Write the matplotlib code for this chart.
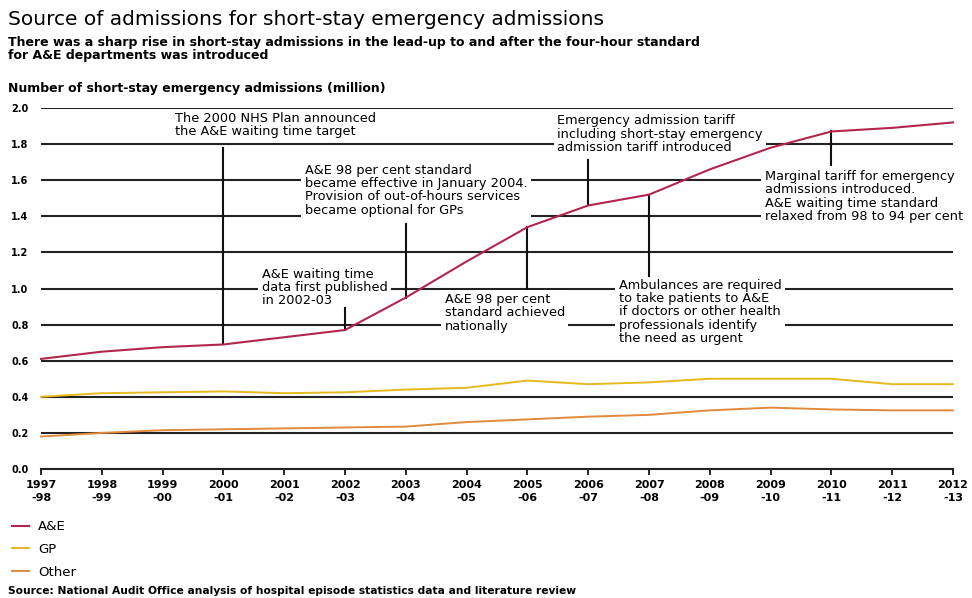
import matplotlib
matplotlib.use("Agg")
import matplotlib.pyplot as plt
import numpy as np

plt.rcParams['font.family'] = ['DejaVu Sans']

# financial years
years = ["1997\n-98", "1998\n-99", "1999\n-00", "2000\n-01", "2001\n-02", "2002\n-03",
         "2003\n-04", "2004\n-05", "2005\n-06", "2006\n-07", "2007\n-08", "2008\n-09",
         "2009\n-10", "2010\n-11", "2011\n-12", "2012\n-13"]

# short-stay emergency admissions (million)
ae = [0.61, 0.65, 0.675, 0.69, 0.73, 0.77, 0.95, 1.15, 1.34, 1.46, 1.52, 1.66,
      1.78, 1.87, 1.89, 1.92]
gp = [0.40, 0.42, 0.425, 0.43, 0.42, 0.425, 0.44, 0.45, 0.49, 0.47, 0.48, 0.50,
      0.50, 0.50, 0.47, 0.47]
other = [0.18, 0.20, 0.215, 0.22, 0.225, 0.23, 0.235, 0.26, 0.275, 0.29, 0.30,
         0.325, 0.34, 0.33, 0.325, 0.325]

yticks = [0.0, 0.2, 0.4, 0.6, 0.8, 1.0, 1.2, 1.4, 1.6, 1.8, 2.0]

c_ae = "#b3264c"
c_gp = "#e6b91e"
c_other = "#e08a3c"

fig = plt.figure(figsize=(9.72, 5.98), dpi=100)
ax = fig.add_axes([0.0422, 0.2157, 0.9383, 0.6037])
x = np.arange(len(years))

# horizontal rules, text boxes sit on top and break them
for v in yticks[1:-1]:
    ax.axhline(v, color="#222222", lw=1.5, zorder=1)
ax.axhline(yticks[-1], color="#222222", lw=1.5, zorder=4)

ax.plot(x, other, color=c_other, lw=1.4, zorder=6, label="Other", clip_on=False)
ax.plot(x, gp, color=c_gp, lw=1.4, zorder=6, label="GP", clip_on=False)
ax.plot(x, ae, color=c_ae, lw=1.5, zorder=6, label="A&E", clip_on=False)

ax.set_xlim(0, len(years) - 1)
ax.set_ylim(0, 2.0)
ax.set_xticks(x)
ax.set_xticklabels(years, fontsize=8, fontweight="bold", linespacing=1.3)
ax.set_yticks(yticks)
ax.set_yticklabels([f"{v:.1f}" for v in yticks], fontsize=7, fontweight="bold")
ax.tick_params(axis="y", length=0, pad=9)
ax.tick_params(axis="x", length=4, width=1.2, direction="out", pad=4)
for s in ["top", "right", "left"]:
    ax.spines[s].set_visible(False)
ax.spines["bottom"].set_linewidth(1.5)
ax.spines["bottom"].set_color("#222222")

box = dict(facecolor="white", edgecolor="none", pad=2.5)
tkw = dict(fontsize=9.3, linespacing=1.03, zorder=3, bbox=box, ha="left", va="center")

# annotations: (index, text x, text y, end of leader)
notes = [
    (3, 2.2, 1.905, 1.78,
     "The 2000 NHS Plan announced\nthe A&E waiting time target"),
    (5, 3.63, 1.005, 0.89,
     "A&E waiting time\ndata first published\nin 2002-03"),
    (6, 4.34, 1.545, 1.36,
     "A&E 98 per cent standard\nbecame effective in January 2004.\n"
     "Provision of out-of-hours services\nbecame optional for GPs"),
    (8, 6.64, 0.865, 1.0,
     "A&E 98 per cent\nstandard achieved\nnationally"),
    (9, 8.49, 1.855, 1.71,
     "Emergency admission tariff\nincluding short-stay emergency\nadmission tariff introduced"),
    (10, 9.5, 0.87, 1.07,
     "Ambulances are required\nto take patients to A&E\nif doctors or other health\n"
     "professionals identify\nthe need as urgent"),
    (13, 11.9, 1.51, 1.685,
     "Marginal tariff for emergency\nadmissions introduced.\nA&E waiting time standard\n"
     "relaxed from 98 to 94 per cent"),
]
for i, tx, ty, end, txt in notes:
    ax.plot([i, i], [ae[i], end], color="#111111", lw=1.5, zorder=5)
    ax.text(tx, ty, txt, clip_on=False, **tkw)

fig.text(0.008, 0.968, "Source of admissions for short-stay emergency admissions",
         fontsize=14.5, va="center")
fig.text(0.008, 0.918, "There was a sharp rise in short-stay admissions in the lead-up to and after the four-hour standard\n"
         "for A&E departments was introduced", fontsize=9, fontweight="bold",
         va="center", linespacing=0.95)
fig.text(0.008, 0.852, "Number of short-stay emergency admissions (million)",
         fontsize=9, fontweight="bold", va="center")

handles, labels = ax.get_legend_handles_labels()
order = [2, 1, 0]
fig.legend([handles[k] for k in order], [labels[k] for k in order],
           loc="upper left", bbox_to_anchor=(0.0, 0.15), frameon=False,
           fontsize=9.5, handlelength=1.3, handletextpad=0.7, labelspacing=0.75)

fig.text(0.008, 0.012, "Source: National Audit Office analysis of hospital episode statistics data and literature review",
         fontsize=7.7, fontweight="bold", va="center")

fig.savefig("out.png", dpi=100)
